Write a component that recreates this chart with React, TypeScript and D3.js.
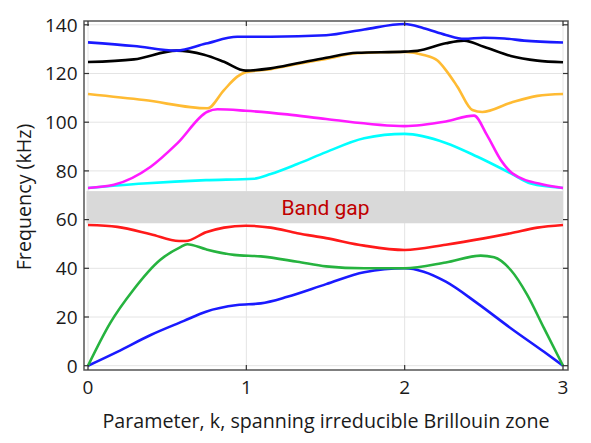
import React from "react";
import * as d3 from "d3";

const W = 591;
const H = 443;

const xTicks = [0, 1, 2, 3];
const yTicks = [0, 20, 40, 60, 80, 100, 120, 140];

const gapLow = 58.5;
const gapHigh = 71.7;
const gapLabel = "Band gap";
const xTitle = "Parameter, k, spanning irreducible Brillouin zone";
const yTitle = "Frequency (kHz)";

// Band 1 (blue, lowest)
const band1K = [0, 0.185, 0.396, 0.606, 0.745, 0.943, 1.091, 1.259, 1.504, 1.744, 2.0, 2.12, 2.26, 2.46, 2.67, 2.88, 3.0];
const band1F = [0, 5.7, 12.6, 18.4, 22.2, 24.9, 25.6, 28.3, 33.5, 38.4, 40, 38.6, 34.5, 25.6, 15.4, 5.7, 0];
// Band 2 (green)
const band2K = [0, 0.139, 0.286, 0.455, 0.581, 0.627, 0.745, 0.922, 1.091, 1.322, 1.504, 1.744, 2.0, 2.26, 2.48, 2.565, 2.67, 2.775, 2.88, 3.0];
const band2F = [0, 17.4, 31.1, 43.4, 48.6, 49.9, 47.8, 45.5, 44.9, 42.7, 40.8, 40.0, 40.0, 42.4, 45.2, 44.5, 39.3, 29.0, 15.4, 0];
// Band 3 (red)
const band3K = [0, 0.185, 0.396, 0.575, 0.617, 0.745, 0.859, 0.996, 1.154, 1.322, 1.504, 1.744, 2.0, 2.26, 2.5, 2.67, 2.838, 3.0];
const band3F = [57.8, 57.0, 54.0, 51.2, 51.2, 54.8, 56.7, 57.5, 56.7, 54.4, 52.4, 49.3, 47.5, 49.7, 52.3, 54.4, 56.7, 57.8];
// Band 4 (cyan)
const band4K = [0, 0.35, 0.745, 1.049, 1.154, 1.322, 1.504, 1.744, 2.0, 2.26, 2.46, 2.67, 2.797, 3.0];
const band4F = [73, 74.8, 76.2, 76.8, 78.7, 82.8, 87.7, 93.4, 95.2, 91.5, 85.8, 79.0, 74.8, 73];
// Band 5 (magenta)
const band5K = [0, 0.164, 0.396, 0.564, 0.754, 0.817, 0.996, 1.259, 1.504, 2.0, 2.26, 2.438, 2.52, 2.607, 2.68, 2.88, 3.0];
const band5F = [73, 74.3, 81.7, 91.3, 104.3, 105.3, 104.7, 103.2, 101.3, 98.4, 100.3, 102.7, 94.7, 84.5, 79.0, 74.3, 73];
// Band 6 (orange)
const band6K = [0, 0.354, 0.754, 0.859, 0.943, 0.996, 1.154, 1.322, 1.504, 1.7, 2.0, 2.12, 2.207, 2.26, 2.333, 2.428, 2.49, 2.67, 2.838, 3.0];
const band6F = [111.6, 109.1, 105.7, 113.2, 118.7, 120.5, 121.8, 123.9, 126.0, 128.3, 128.8, 127.6, 125.3, 121.4, 114.6, 105.0, 104.2, 108.0, 110.8, 111.6];
// Band 7 (black)
const band7K = [0, 0.29, 0.56, 0.733, 0.859, 0.996, 1.154, 1.322, 1.504, 1.7, 2.0, 2.08, 2.26, 2.375, 2.5, 2.67, 2.838, 3.0];
const band7F = [124.7, 125.8, 129.4, 127.7, 124.8, 121.2, 122.1, 124.2, 126.5, 128.5, 129.0, 129.3, 132.4, 133.5, 131.0, 127.2, 125.3, 124.6];
// Band 8 (blue, top)
const band8K = [0, 0.29, 0.56, 0.745, 0.943, 1.154, 1.504, 1.744, 2.0, 2.12, 2.26, 2.375, 2.5, 2.63, 2.754, 3.0];
const band8F = [132.8, 131.3, 129.4, 132.3, 135.1, 135.1, 135.7, 138.1, 140.3, 138.6, 135.8, 134.2, 134.7, 134.4, 133.5, 132.7];

const bands = [
  { k: band1K, f: band1F, color: "#1a1aff" },
  { k: band2K, f: band2F, color: "#26b33f" },
  { k: band3K, f: band3F, color: "#ff1a1a" },
  { k: band4K, f: band4F, color: "#00ffff" },
  { k: band5K, f: band5F, color: "#ff1aff" },
  { k: band6K, f: band6F, color: "#ffbb33" },
  { k: band7K, f: band7F, color: "#000000" },
  { k: band8K, f: band8F, color: "#1a1aff" },
];

const frame = { left: 84, right: 568, top: 21, bottom: 370 };

export default function App() {
  const x = d3.scaleLinear().domain([0, 3]).range([88, 563]);
  const y = d3.scaleLinear().domain([0, 140]).range([365.7, 24.8]);
  const line = d3
    .line<[number, number]>()
    .x((d) => x(d[0]))
    .y((d) => y(d[1]))
    .curve(d3.curveMonotoneX);

  const tickFont = "'Open Sans', 'Noto Sans', sans-serif";
  const tl = 5;

  return (
    <svg
      width={W}
      height={H}
      style={{ position: "absolute", left: 0, top: 0, background: "#fff" }}
    >
      <rect x={0} y={0} width={W} height={H} fill="#fff" />
      {/* grid */}
      {xTicks.map((t) => (
        <line key={"gx" + t} x1={x(t)} x2={x(t)} y1={frame.top} y2={frame.bottom} stroke="#e4e4e4" strokeWidth={1} />
      ))}
      {yTicks.map((t) => (
        <line key={"gy" + t} x1={frame.left} x2={frame.right} y1={y(t)} y2={y(t)} stroke="#e4e4e4" strokeWidth={1} />
      ))}
      {/* band gap */}
      <rect
        x={x(0) - 1.5}
        y={y(gapHigh)}
        width={x(3) - x(0) + 1.5}
        height={y(gapLow) - y(gapHigh)}
        fill="#d9d9d9"
      />
      <text
        x={x(1.5)}
        y={(y(gapLow) + y(gapHigh)) / 2 + 7.5}
        textAnchor="middle"
        fontFamily="Roboto, sans-serif"
        fontSize={21}
        fill="#c00000"
      >
        {gapLabel}
      </text>
      {/* bands */}
      {bands.map((b, i) => (
        <path
          key={i}
          d={line(b.k.map((k, j) => [k, b.f[j]] as [number, number])) || ""}
          fill="none"
          stroke={b.color}
          strokeWidth={2.6}
          strokeLinejoin="round"
        />
      ))}
      {/* frame */}
      <rect
        x={frame.left}
        y={frame.top}
        width={frame.right - frame.left}
        height={frame.bottom - frame.top}
        fill="none"
        stroke="#555"
        strokeWidth={1.5}
      />
      {/* ticks */}
      {xTicks.map((t) => (
        <g key={"tx" + t}>
          <line x1={x(t)} x2={x(t)} y1={frame.bottom} y2={frame.bottom - tl} stroke="#333" strokeWidth={1.2} />
          <line x1={x(t)} x2={x(t)} y1={frame.top} y2={frame.top + tl} stroke="#333" strokeWidth={1.2} />
          <text x={x(t)} y={394} textAnchor="middle" fontFamily={tickFont} fontSize={19} fill="#1a1a1a">
            {t}
          </text>
        </g>
      ))}
      {yTicks.map((t) => (
        <g key={"ty" + t}>
          <line x1={frame.left} x2={frame.left + tl} y1={y(t)} y2={y(t)} stroke="#333" strokeWidth={1.2} />
          <line x1={frame.right} x2={frame.right - tl} y1={y(t)} y2={y(t)} stroke="#333" strokeWidth={1.2} />
          <text x={77.5} y={y(t) + 6.8} textAnchor="end" fontFamily={tickFont} fontSize={19} fill="#1a1a1a">
            {t}
          </text>
        </g>
      ))}
      {/* titles */}
      <text x={326} y={427.5} textAnchor="middle" fontFamily={tickFont} fontSize={19.7} fill="#1a1a1a">
        {xTitle}
      </text>
      <text
        transform={`translate(31, ${197}) rotate(-90)`}
        textAnchor="middle"
        fontFamily={tickFont}
        fontSize={19.7}
        fill="#1a1a1a"
      >
        {yTitle}
      </text>
    </svg>
  );
}
